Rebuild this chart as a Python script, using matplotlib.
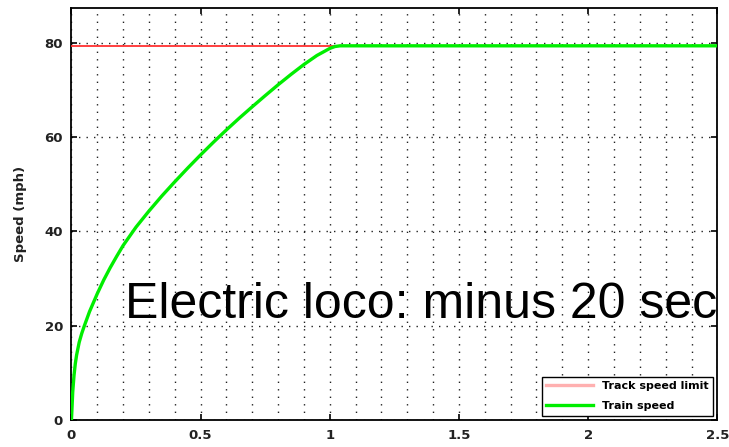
import matplotlib
matplotlib.use("Agg")
import matplotlib.pyplot as plt
from matplotlib.lines import Line2D
from matplotlib.ticker import MultipleLocator

# distance (miles) vs train speed (mph)
dist = [0, 0.005, 0.01, 0.015, 0.02, 0.03, 0.04, 0.05, 0.07, 0.1, 0.125, 0.15,
        0.175, 0.2, 0.25, 0.3, 0.35, 0.4, 0.45, 0.5, 0.55, 0.6, 0.65, 0.7,
        0.75, 0.8, 0.85, 0.9, 0.95, 1.0, 1.02, 1.04, 2.5]
speed = [0, 6, 9.5, 12, 13.8, 16.5, 18.4, 20, 23, 26.8, 29.7, 32.3,
         34.7, 37, 40.9, 44.3, 47.5, 50.5, 53.4, 56.2, 58.9, 61.5, 64, 66.4,
         68.75, 71.05, 73.25, 75.35, 77.25, 78.75, 79.15, 79.3, 79.3]

limit_dist = [0, 2.5]
limit_speed = [79.3, 79.3]

xticks = [0, 0.5, 1, 1.5, 2, 2.5]
xticklabels = ["0", "0.5", "1", "1.5", "2", "2.5"]
yticks = [0, 20, 40, 60, 80]

fig = plt.figure(figsize=(7.29, 4.47), dpi=100)
ax = fig.add_axes([0.098, 0.060, 0.886, 0.922])

ax.plot(limit_dist, limit_speed, color="#ff3030", lw=1.3, zorder=3)
ax.plot(dist, speed, color="#00ee00", lw=2.4, zorder=4,
        solid_joinstyle="round")

ax.set_xlim(0, 2.5)
ax.set_ylim(0, 87.3)
ax.set_xticks(xticks)
ax.set_xticklabels(xticklabels)
ax.set_yticks(yticks)
ax.xaxis.set_minor_locator(MultipleLocator(0.1))

ax.tick_params(which="major", direction="in", length=4, width=1.2,
               top=True, right=True, labelsize=9.5, pad=6)
ax.tick_params(which="minor", length=0)
for lab in ax.get_xticklabels() + ax.get_yticklabels():
    lab.set_fontweight("bold")
    lab.set_color("#222222")

for s in ax.spines.values():
    s.set_linewidth(1.3)

ax.grid(True, axis="x", which="both", color="#222222", lw=1.0,
        linestyle=(0, (1, 4.4)))
ax.grid(True, axis="y", which="major", color="#222222", lw=1.0,
        linestyle=(0, (1, 4.4)))
ax.set_axisbelow(True)

ax.set_ylabel("Speed (mph)", fontsize=9.5, fontweight="bold", labelpad=13,
              color="#222222")

handles = [Line2D([], [], color="#ffb0b0", lw=2.4),
           Line2D([], [], color="#00ee00", lw=2.4)]
leg = ax.legend(handles, ["Track speed limit", "Train speed"], loc="lower right",
                prop={"size": 8, "weight": "bold"}, fancybox=False,
                framealpha=1, edgecolor="black", handlelength=4.2,
                borderaxespad=0.4, labelspacing=0.9)
leg.get_frame().set_linewidth(1.0)

ax.text(0.206, 21.6, "Electric loco: minus 20 sec", fontsize=36,
        family="Liberation Sans", ha="left", va="baseline", zorder=6)

fig.savefig("out.png", dpi=100)
